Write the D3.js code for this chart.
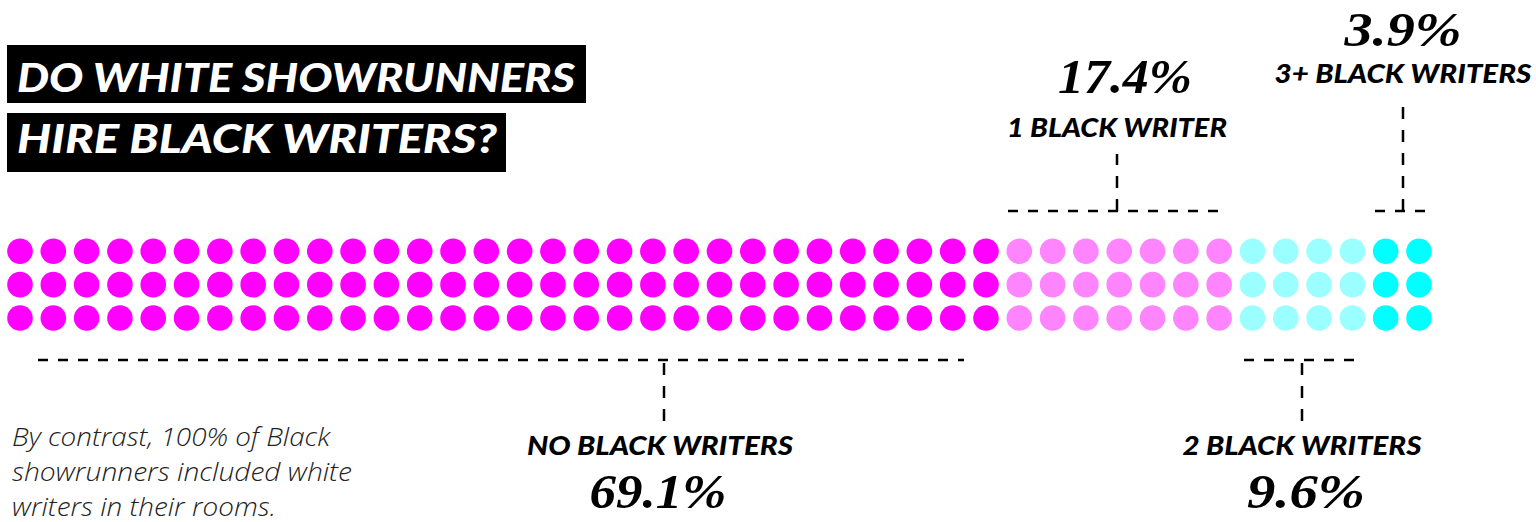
<!DOCTYPE html>
<html>
<head>
<meta charset="utf-8">
<script src="https://cdn.jsdelivr.net/npm/d3@7"></script>
<style>
  html, body { margin: 0; padding: 0; background: #fff; }
  svg { display: block; }
</style>
</head>
<body>
<svg id="chart" width="1536" height="522"></svg>
<script>
// ---- data ----
const categories = ["NO BLACK WRITERS", "1 BLACK WRITER", "2 BLACK WRITERS", "3+ BLACK WRITERS"];
const percentLabels = ["69.1%", "17.4%", "9.6%", "3.9%"];
const dotColumns = [30, 7, 4, 2];          // columns of dots per category (3 dots each)
const dotRows = 3;
const colors = ["#ff00ff", "#ff85ff", "#9cffff", "#00ffff"];
const titleLines = ["DO WHITE SHOWRUNNERS", "HIRE BLACK WRITERS?"];
const noteLines = ["By contrast, 100% of Black", "showrunners included white", "writers in their rooms."];

// ---- layout ----
const svg = d3.select("#chart");
const totalCols = d3.sum(dotColumns);
const x = d3.scaleLinear().domain([0, totalCols - 1]).range([20, 1419]);
const y = d3.scaleLinear().domain([0, dotRows - 1]).range([251.3, 318]);
const r = 12.8;

// build dots
const dots = [];
let col = 0;
dotColumns.forEach((n, g) => {
  for (let c = 0; c < n; c++, col++) {
    for (let rr = 0; rr < dotRows; rr++) dots.push({ g, col, row: rr });
  }
});
svg.append("g").selectAll("circle").data(dots).join("circle")
  .attr("cx", d => x(d.col)).attr("cy", d => y(d.row)).attr("r", r)
  .attr("fill", d => colors[d.g]);

// ---- title ----
const titleBoxes = [
  { x0: 7, x1: 586, y0: 45, y1: 103, tx: 17, base: 92, len: 558 },
  { x0: 7, x1: 506, y0: 113, y1: 172, tx: 17, base: 153, len: 480 }
];
titleBoxes.forEach((b, i) => {
  svg.append("rect").attr("x", b.x0).attr("y", b.y0)
    .attr("width", b.x1 - b.x0).attr("height", b.y1 - b.y0).attr("fill", "#000");
  svg.append("text").attr("x", b.tx).attr("y", b.base)
    .attr("fill", "#fff")
    .attr("font-family", "Lato, 'Open Sans', sans-serif")
    .attr("font-weight", 900).attr("font-style", "italic")
    .attr("font-size", 39)
    .attr("textLength", b.len).attr("lengthAdjust", "spacingAndGlyphs")
    .text(titleLines[i]);
});

// ---- annotations ----
const ann = [
  { g: 0, hx0: 38, hx1: 964, hy: 360, vx: 664, vy0: 362, vy1: 421,
    labelX: 660, labelY: 455, labelLen: 266, pctX: 658, pctY: 508, pctLen: 137 },
  { g: 1, hx0: 1008, hx1: 1224, hy: 211, vx: 1117, vy0: 154, vy1: 211,
    labelX: 1117, labelY: 137, labelLen: 220, pctX: 1125, pctY: 93, pctLen: 134 },
  { g: 2, hx0: 1244, hx1: 1359, hy: 360, vx: 1302, vy0: 362, vy1: 421,
    labelX: 1302, labelY: 455, labelLen: 239, pctX: 1306, pctY: 508, pctLen: 118 },
  { g: 3, hx0: 1375, hx1: 1435, hy: 211, vx: 1403, vy0: 106, vy1: 211,
    labelX: 1403, labelY: 83, labelLen: 257, pctX: 1403, pctY: 46, pctLen: 117 }
];
const ag = svg.append("g");
ann.forEach(a => {
  ag.append("line").attr("x1", a.hx0).attr("x2", a.hx1).attr("y1", a.hy).attr("y2", a.hy)
    .attr("stroke", "#000").attr("stroke-width", 2.5).attr("stroke-dasharray", "10,10");
  ag.append("line").attr("x1", a.vx).attr("x2", a.vx).attr("y1", a.vy1).attr("y2", a.vy0)
    .attr("stroke", "#000").attr("stroke-width", 2.5).attr("stroke-dasharray", "12,11");
  ag.append("text").attr("x", a.labelX).attr("y", a.labelY)
    .attr("text-anchor", "middle")
    .attr("font-family", "Lato, 'Open Sans', sans-serif")
    .attr("font-weight", 900).attr("font-style", "italic").attr("font-size", 26)
    .attr("fill", "#000")
    .attr("textLength", a.labelLen).attr("lengthAdjust", "spacingAndGlyphs")
    .text(categories[a.g]);
  ag.append("text").attr("x", a.pctX).attr("y", a.pctY)
    .attr("text-anchor", "middle")
    .attr("font-family", "'Liberation Serif', 'DejaVu Serif', serif")
    .attr("font-weight", 700).attr("font-style", "italic").attr("font-size", 48)
    .attr("fill", "#000")
    .attr("textLength", a.pctLen).attr("lengthAdjust", "spacingAndGlyphs")
    .text(percentLabels[a.g]);
});

// ---- note ----
const noteLens = [318, 340, 264];
const note = svg.append("text")
  .attr("font-family", "'Open Sans', Lato, sans-serif")
  .attr("font-weight", 300).attr("font-style", "italic").attr("font-size", 25)
  .attr("fill", "#222");
noteLines.forEach((t, i) => {
  note.append("tspan").attr("x", 12).attr("y", 446 + i * 35)
    .attr("textLength", noteLens[i]).attr("lengthAdjust", "spacingAndGlyphs")
    .text(t);
});
</script>
</body>
</html>
